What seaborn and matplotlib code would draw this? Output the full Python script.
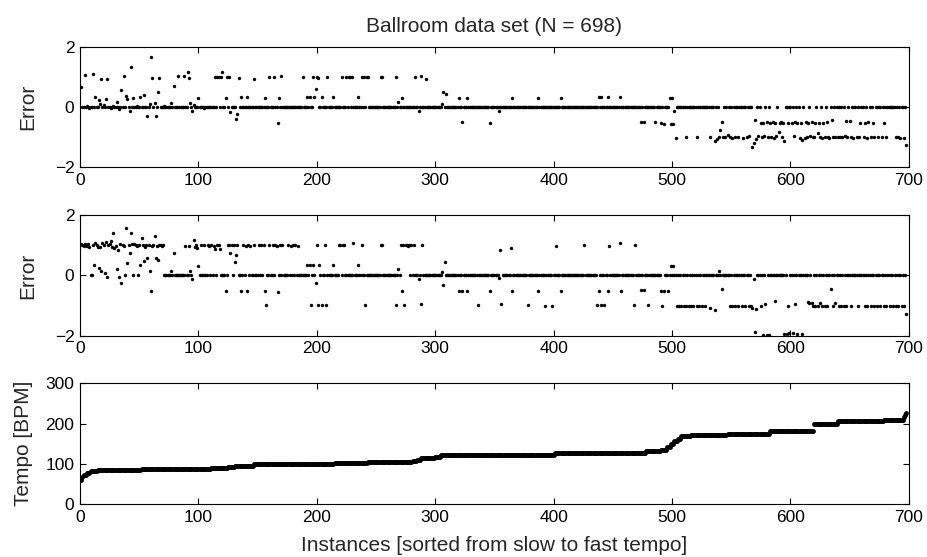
import numpy as np
import pandas as pd
import matplotlib
matplotlib.use("Agg")
import matplotlib.pyplot as plt
import seaborn as sns

N = 698

# top panel: instances off the zero line (index, error)
top_idx = [0, 3, 5, 7, 10, 12, 15, 16, 17, 19, 21, 22, 25, 27, 30, 32, 34, 36, 38, 39,
           41, 42, 44, 47, 50, 53, 56, 58, 59, 60, 62, 63, 65, 66, 70, 76, 78, 82, 87, 90,
           91, 92, 94, 95, 99, 104, 113, 115, 116, 118, 119, 122, 123, 125, 126, 131, 132, 133,
           135, 140, 146, 155, 159, 163, 166, 167, 169, 187, 191, 193, 196, 197, 198, 199,
           200, 203, 208, 213, 220, 224, 226, 227, 229, 234, 237, 239, 241, 242, 253, 254,
           266, 268, 271, 282, 285, 287, 291, 305, 306, 308, 319, 322, 326, 345, 353, 364,
           386, 405, 437, 439, 445, 455, 497, 499, 501]
top_err = [0.65, 1.06, 0.04, -0.04, 1.1, 0.34, 0.23, 0.1, 0.92, 0.05, 0.27, 0.92, -0.05, 0.04,
           0.18, -0.06, 0.56, 1.04, 0.38, 0.28, -0.15, 1.32, 0.29, 0.03, 0.32, 0.41, -0.3, 0.1,
           1.65, 0.97, 0.14, -0.29, 0.49, 0.97, 0.03, 0.12, 0.71, 1.04, 1.04, 1.15, 0.97, 0.14,
           -0.15, 0.07, 0.29, -0.04, 1.0, 1.0, 0.98, 1.0, 1.15, 0.31, 1.0, 1.0, -0.18, -0.41,
           -0.23, 0.97, 0.32, 0.32, 0.92, 0.31, 1.0, 1.0, -0.52, 0.29, 1.03, 1.0, 0.32, 0.32,
           1.0, 0.32, 0.59, 1.0, 0.97, 0.32, 1.0, 0.32, 1.0, 1.0, 1.0, 1.0, 1.0, 0.32, 1.0,
           1.0, 1.0, 1.0, 1.0, 1.0, 1.0, 0.18, 0.29, 1.0, -0.13, 1.04, 0.92, 0.1, 0.49, 0.43,
           0.31, -0.51, 0.31, -0.52, -0.15, 0.31, 0.31, 0.31, 0.32, 0.32, 0.32, 0.34, 0.31,
           0.31, -0.13]

# top panel: the "half tempo" row in the fast instances
top_low_idx = [502, 511, 520, 531, 535, 537, 539, 542, 544, 546, 548, 550, 552, 555, 559, 562,
               564, 567, 568, 570, 572, 575, 577, 580, 583, 585, 587, 589, 592, 594, 602, 607,
               609, 611, 613, 616, 618, 619, 622, 624, 626, 628, 631, 632, 635, 637, 639, 641,
               643, 645, 647, 650, 652, 655, 657, 661, 664, 667, 670, 673, 676, 680, 688, 690,
               692, 695, 697]
top_low_err = [-1.02, -1.0, -1.0, -1.0, -1.13, -1.05, -0.99, -1.0, -1.0, -0.93, -1.0, -1.02,
               -1.0, -1.0, -1.02, -1.0, -0.95, -1.32, -1.21, -1.05, -0.98, -1.0, -0.97, -1.0,
               -1.0, -1.02, -0.98, -0.84, -1.0, -1.13, -0.97, -1.03, -1.1, -1.02, -1.0, -0.98,
               -1.0, -0.99, -0.87, -1.0, -1.02, -1.0, -1.0, -1.02, -1.0, -1.0, -1.01, -1.0,
               -1.0, -0.98, -1.0, -1.0, -1.02, -1.0, -1.0, -1.0, -1.02, -1.0, -1.0, -1.0, -1.0,
               -1.0, -1.0, -1.0, -1.03, -1.02, -1.26]

# top panel: the "two thirds" row
top_mid_idx = [473, 475, 485, 490, 492, 498, 500, 540, 541, 569, 574, 576, 579, 582, 584, 586,
               590, 591, 593, 597, 600, 603, 605, 608, 612, 614, 617, 620, 623, 627, 630, 634,
               646, 649, 658, 662, 665, 669, 678]
top_mid_err = [-0.51, -0.51, -0.49, -0.55, -0.56, -0.56, -0.56, -0.76, -0.49, -0.45, -0.52,
               -0.52, -0.51, -0.52, -0.5, -0.52, -0.52, -0.51, -0.52, -0.52, -0.52, -0.51,
               -0.52, -0.52, -0.51, -0.52, -0.51, -0.52, -0.52, -0.52, -0.51, -0.45, -0.46,
               -0.46, -0.52, -0.52, -0.51, -0.52, -0.52]

# middle panel: instances off the zero line (index, error)
mid_idx = [0, 1, 2, 3, 4, 5, 6, 7, 10, 11, 12, 13, 14, 15, 16, 17, 18, 19, 20, 21, 22, 23,
           24, 25, 26, 27, 28, 29, 30, 31, 32, 33, 34, 35, 36, 38, 39, 40, 41, 42, 43, 45,
           46, 47, 49, 50, 51, 52, 53, 54, 55, 56, 57, 58, 59, 60, 61, 62, 63, 64, 65, 66,
           67, 68, 69, 76, 78, 88, 91, 92, 94, 95, 96, 97, 98, 99, 101, 104, 107, 108, 110,
           112, 113, 115, 116, 117, 122, 124, 125, 126, 127, 129, 130, 131, 132, 135, 137,
           139, 140, 141, 143, 146, 150, 152, 154, 155, 156, 159, 162, 164, 165, 166, 168,
           170, 175, 177, 179, 181, 183, 191, 193, 194, 196, 198, 199, 200, 201, 203, 206,
           207, 213, 218, 219, 221, 222, 230, 234, 237, 240, 253, 254, 266, 268, 270, 271,
           272, 273, 274, 275, 276, 277, 279, 281, 285, 287, 288, 305, 306, 307, 319, 322,
           326, 335, 345, 353, 354, 355, 363, 364, 377, 386, 392, 398, 401, 405, 425, 436,
           437, 439, 442, 445, 446, 455, 456, 467, 468, 473, 475, 479, 490, 491, 492, 496,
           498, 500]
mid_err = [1.05, 1.02, 0.98, 1.04, 1.0, 0.97, 1.03, 0.95, 1.0, 0.36, 1.06, 1.0, 0.95, 0.25,
           0.93, 0.14, 1.08, 1.0, 0.07, 1.1, -0.04, 1.0, 1.04, 1.13, 0.95, 1.41, 0.9, 0.98,
           0.2, 0.85, -0.04, 1.05, -0.26, 1.02, 0.98, 1.58, 0.42, 1.0, 0.73, 1.41, 1.03, 1.05,
           1.0, 0.97, 1.02, 0.36, 1.25, 1.0, 0.47, 0.95, 1.0, 0.58, 1.02, 0.14, -0.5, 0.98,
           1.0, 1.3, 0.58, 0.98, 0.51, 1.0, 1.0, 0.98, 1.0, 0.14, 0.73, 0.97, 0.97, 0.14,
           -0.13, 1.16, 0.95, 1.0, 0.92, 0.31, 1.0, 1.0, 1.0, 0.98, 1.0, 0.98, 0.86, 1.0, 1.0,
           0.88, -0.5, 1.0, 1.02, 0.73, 1.0, 1.0, 0.45, 0.66, 1.0, -0.5, 1.0, 0.98, -0.5, 1.0,
           0.97, 1.0, 1.0, 1.0, 1.0, -0.5, -0.99, 1.0, 1.0, 1.0, 0.98, -0.54, 1.0, 1.0, 1.0,
           0.98, 1.0, 1.0, 0.98, 0.34, 0.34, -0.99, 0.34, -0.24, 1.0, -0.98, 0.34, -0.98, 1.0,
           -0.99, 0.34, 1.0, 1.0, 1.0, 1.0, 1.08, 0.34, 1.0, -0.99, 1.0, 1.0, -0.99, 0.2, 1.0,
           -0.52, 1.0, -0.99, 1.0, 1.0, 0.98, 1.0, 1.0, 1.0, -0.11, -0.96, 1.0, 0.11, -0.33,
           0.45, -0.5, -0.5, -0.5, -0.99, -0.5, -0.08, 0.84, -0.96, 0.91, -0.5, -0.99, -0.5,
           -1.0, -1.0, 0.99, -0.5, 1.02, -0.99, -0.5, -0.99, -0.99, -0.5, 0.99, 1.06, -0.52,
           -0.99, 1.02, -0.47, -0.47, -0.99, -0.52, -1.0, -0.52, -0.52, 0.31, 0.31]

# middle panel: fast instances off the zero line
mid_fast_idx = [503, 505, 507, 509, 511, 513, 515, 517, 520, 522, 524, 527, 531, 535, 539, 541,
                548, 550, 552, 555, 558, 561, 564, 566, 567, 568, 569, 570, 574, 576, 578, 579,
                581, 586, 594, 596, 597, 598, 601, 603, 605, 609, 614, 615, 617, 618, 620, 622,
                624, 626, 628, 630, 633, 635, 637, 640, 642, 644, 646, 650, 656, 662, 664, 667,
                670, 672, 675, 678, 680, 683, 686, 688, 690, 693, 695, 697]
mid_fast_err = [-1.0, -1.0, -1.0, -1.0, -1.0, -1.0, -1.0, -1.0, -1.0, -1.0, -1.0, -1.0, -1.07,
                -1.15, 0.14, -0.46, -1.0, -1.0, -1.0, -1.0, -1.0, -1.0, -1.0, -1.0, -1.07, -0.11,
                -1.87, -1.12, -1.0, -1.98, -0.96, -1.98, -1.97, -0.85, -1.95, -1.95, -1.0, -1.9,
                -1.92, -0.93, -1.95, -1.95, -0.88, -0.9, -0.92, -1.0, -1.0, -1.0, -0.9, -1.0,
                -1.0, -1.0, -0.46, -1.0, -0.9, -1.0, -1.0, -1.0, -1.0, -1.0, -1.0, -1.0, -1.0,
                -1.0, -1.0, -1.0, -1.0, -1.0, -1.0, -1.0, -1.0, -1.0, -1.0, -1.0, -1.0, -1.27]

# bottom panel: sorted ground-truth tempo as runs (BPM, number of instances)
tempo_bpm = [60, 66, 73, 76, 81, 84, 87, 89.5, 92, 95, 99.5, 102, 104, 107, 110, 114, 118,
             122.5, 127, 131, 135, 142, 150, 156, 162, 168, 171, 175, 180.5, 200, 205.5,
             208.5, 215, 220, 225]
tempo_count = [1, 1, 3, 3, 6, 37, 59, 14, 6, 16, 68, 28, 38, 4, 3, 12, 5, 96, 77, 13, 5, 3,
               3, 3, 3, 8, 31, 36, 37, 20, 39, 17, 1, 1, 1]


def error_frame(parts):
    err = np.zeros(N)
    for idx, vals in parts:
        err[idx] = vals
    return pd.DataFrame({"instance": np.arange(1, N + 1), "error": err})


def style_axes(ax, ylim, yticks, ylabel):
    ax.set_xlim(0, 700)
    ax.set_ylim(*ylim)
    ax.set_xticks(range(0, 701, 100))
    ax.set_yticks(yticks)
    ax.set_yticklabels([str(t).replace("-", "\u2212") for t in yticks])
    ax.set_xlabel("")
    ax.set_ylabel(ylabel, fontsize=15)
    ax.tick_params(direction="in", bottom=True, left=True, top=True, right=True,
                   length=4, width=0.8, labelsize=12.5, pad=4, colors="black")
    for s in ax.spines.values():
        s.set_linewidth(0.8)
        s.set_color("black")


def main():
    sns.set_style("white")
    plt.rcParams["font.family"] = ["Liberation Sans", "DejaVu Sans"]

    fig = plt.figure(figsize=(9.27, 5.57), dpi=100)
    ax1 = fig.add_axes([0.0863, 0.700, 0.894, 0.216])
    ax2 = fig.add_axes([0.0863, 0.397, 0.894, 0.217])
    ax3 = fig.add_axes([0.0863, 0.095, 0.894, 0.217])

    df1 = error_frame([(top_idx, top_err), (top_mid_idx, top_mid_err), (top_low_idx, top_low_err)])
    df2 = error_frame([(mid_idx, mid_err), (mid_fast_idx, mid_fast_err)])
    tempo = pd.DataFrame({"instance": np.arange(1, N + 1),
                          "tempo": np.repeat(tempo_bpm, tempo_count)})

    sns.scatterplot(data=df1, x="instance", y="error", ax=ax1, color="black", s=6, linewidth=0)
    sns.scatterplot(data=df2, x="instance", y="error", ax=ax2, color="black", s=6, linewidth=0)
    sns.scatterplot(data=tempo, x="instance", y="tempo", ax=ax3, color="black", s=12, linewidth=0)

    style_axes(ax1, (-2, 2), [-2, 0, 2], "Error")
    style_axes(ax2, (-2, 2), [-2, 0, 2], "Error")
    style_axes(ax3, (0, 300), [0, 100, 200, 300], "Tempo [BPM]")
    ax1.yaxis.set_label_coords(-0.052, 0.5)
    ax2.yaxis.set_label_coords(-0.052, 0.5)
    ax3.yaxis.set_label_coords(-0.057, 0.5)

    ax1.set_title("Ballroom data set (N = 698)", fontsize=15, pad=11)
    ax3.set_xlabel("Instances [sorted from slow to fast tempo]", fontsize=15, labelpad=8)

    fig.savefig("out.png", dpi=100)


if __name__ == "__main__":
    main()
